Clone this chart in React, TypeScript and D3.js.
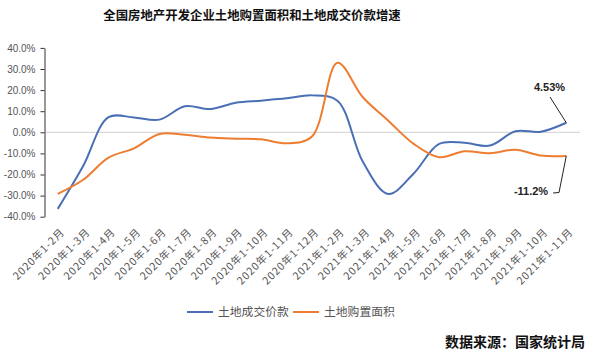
import React, { useEffect, useRef } from "react";
import * as d3 from "d3";

const categories = [
  "2020年1-2月", "2020年1-3月", "2020年1-4月", "2020年1-5月", "2020年1-6月",
  "2020年1-7月", "2020年1-8月", "2020年1-9月", "2020年1-10月", "2020年1-11月",
  "2020年1-12月", "2021年1-2月", "2021年1-3月", "2021年1-4月", "2021年1-5月",
  "2021年1-6月", "2021年1-7月", "2021年1-8月", "2021年1-9月", "2021年1-10月",
  "2021年1-11月",
];

// 土地成交价款 (%)
const landPrice = [
  -36.3, -16, 7.2, 7, 6, 12.3, 11, 14, 15, 16.1, 17.5, 15, -14, -29.2, -19.5,
  -5.5, -5, -6.3, 0.5, 0.3, 4.53,
];

// 土地购置面积 (%)
const landArea = [
  -29.2, -22.5, -12, -7.6, -0.8, -1.2, -2.5, -3, -3.3, -5.2, -2, 33, 16.6, 5.5,
  -5.5, -11.8, -9, -9.9, -8.3, -11, -11.2,
];

const yTicks = [40, 30, 20, 10, 0, -10, -20, -30, -40];

const seriesNames = ["土地成交价款", "土地购置面积"];
const colors = ["#4a6fb5", "#ed7d31"];

const Chart: React.FC = () => {
  const svgRef = useRef<SVGSVGElement | null>(null);

  useEffect(() => {
    if (!svgRef.current) return;
    const width = 596;
    const height = 360;
    const cjk = "'Noto Sans CJK SC', 'Liberation Sans', sans-serif";
    const latin = "'Liberation Sans', Arial, sans-serif";

    const svg = d3
      .select(svgRef.current)
      .attr("viewBox", [0, 0, width, height])
      .attr("width", width)
      .attr("height", height);

    const x = d3.scalePoint<string>().domain(categories).range([45, 579]).padding(0.5);
    const y = d3.scaleLinear().domain([-40, 40]).range([216.7, 47.9]);

    // Title
    svg
      .append("text")
      .attr("x", 252)
      .attr("y", 16)
      .attr("dy", "0.36em")
      .attr("text-anchor", "middle")
      .attr("font-family", cjk)
      .attr("font-size", 12.4)
      .attr("font-weight", "bold")
      .attr("fill", "#111")
      .text("全国房地产开发企业土地购置面积和土地成交价款增速");

    // zero gridline
    svg
      .append("line")
      .attr("x1", 45)
      .attr("x2", 580)
      .attr("y1", y(0))
      .attr("y2", y(0))
      .attr("stroke", "#d0d0d0")
      .attr("stroke-width", 1);

    // Y axis
    const gy = svg
      .append("g")
      .attr("transform", "translate(44.5,0)")
      .call(
        d3
          .axisLeft(y)
          .tickValues(yTicks)
          .tickSize(4)
          .tickSizeOuter(0)
          .tickPadding(5)
          .tickFormat((d) => `${(+d).toFixed(1)}%`)
      );
    gy.select(".domain").attr("stroke", "#333");
    gy.selectAll(".tick line").attr("stroke", "#333");
    gy.selectAll(".tick text")
      .attr("font-family", latin)
      .attr("font-size", 10)
      .attr("fill", "#555");

    // X labels
    svg
      .append("g")
      .selectAll("text")
      .data(categories)
      .join("text")
      .attr("transform", (d) => `translate(${x(d)! + 5},${230}) rotate(-45)`)
      .attr("text-anchor", "end")
      .attr("dy", "0.35em")
      .attr("font-family", cjk)
      .attr("font-size", 10.5)
      .attr("letter-spacing", 0.9)
      .attr("fill", "#555")
      .text((d) => d);

    // Lines
    const line = d3
      .line<number>()
      .x((_, i) => x(categories[i])!)
      .y((d) => y(d))
      .curve(d3.curveCatmullRom.alpha(0.5));

    [landPrice, landArea].forEach((s, i) => {
      svg
        .append("path")
        .datum(s)
        .attr("fill", "none")
        .attr("stroke", colors[i])
        .attr("stroke-width", 2)
        .attr("d", line);
    });

    // Annotations
    const lastX = x(categories[categories.length - 1])!;
    svg
      .append("text")
      .attr("x", 549.5)
      .attr("y", 87)
      .attr("dy", "0.35em")
      .attr("text-anchor", "middle")
      .attr("font-family", latin)
      .attr("font-size", 11)
      .attr("font-weight", "bold")
      .attr("fill", "#222")
      .text(`${landPrice[landPrice.length - 1]}%`);
    svg
      .append("path")
      .attr("d", `M550,97 L${lastX},${y(landPrice[landPrice.length - 1])}`)
      .attr("stroke", "#222")
      .attr("fill", "none");

    svg
      .append("text")
      .attr("x", 531)
      .attr("y", 191)
      .attr("dy", "0.35em")
      .attr("text-anchor", "middle")
      .attr("font-family", latin)
      .attr("font-size", 11)
      .attr("font-weight", "bold")
      .attr("fill", "#222")
      .text(`${landArea[landArea.length - 1]}%`);
    svg
      .append("path")
      .attr("d", `M553,193 L559,192.5 L${lastX},${y(landArea[landArea.length - 1])}`)
      .attr("stroke", "#222")
      .attr("fill", "none");

    // Legend
    const legend = svg.append("g");
    const legendX = [187, 293];
    seriesNames.forEach((name, i) => {
      legend
        .append("line")
        .attr("x1", legendX[i])
        .attr("x2", legendX[i] + 26)
        .attr("y1", 312)
        .attr("y2", 312)
        .attr("stroke", colors[i])
        .attr("stroke-width", 2);
      legend
        .append("text")
        .attr("x", legendX[i] + 31)
        .attr("y", 312)
        .attr("dy", "0.35em")
        .attr("font-family", cjk)
        .attr("font-size", 11.8)
        .attr("fill", "#555")
        .text(name);
    });

    // Source
    svg
      .append("text")
      .attr("x", 585)
      .attr("y", 342)
      .attr("dy", "0.36em")
      .attr("text-anchor", "end")
      .attr("font-family", cjk)
      .attr("font-size", 14)
      .attr("font-weight", "bold")
      .attr("fill", "#111")
      .text("数据来源：国家统计局");

    return () => {
      svg.selectAll("*").remove();
    };
  }, []);

  return <svg ref={svgRef} style={{ position: "absolute", left: 0, top: 0, background: "#fff" }}></svg>;
};

export default function App() {
  return <Chart />;
}
